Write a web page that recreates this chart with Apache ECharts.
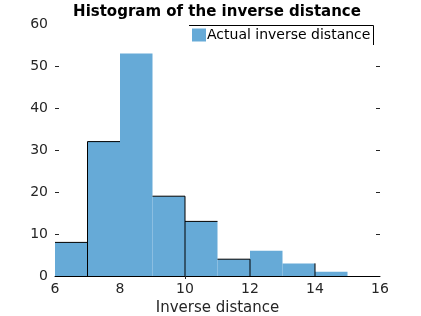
<!DOCTYPE html>
<html>
<head>
<meta charset="utf-8">
<script src="https://cdn.jsdelivr.net/npm/echarts@6/dist/echarts.min.js"></script>
<style>
  html, body { margin: 0; padding: 0; background: #fff; }
  #chart { width: 421px; height: 316px; }
</style>
</head>
<body>
<div id="chart"></div>
<script>
// bin edges and counts
const binStart = [6, 7, 8, 9, 10, 11, 12, 13, 14];
const binEnd = [7, 8, 9, 10, 11, 12, 13, 14, 15];
const counts = [8, 32, 53, 19, 13, 4, 6, 3, 1];
const yTicks = [0, 10, 20, 30, 40, 50, 60];
const xTicks = [6, 8, 10, 12, 14, 16];

const seriesName = 'Actual inverse distance';
const fillColor = '#66AAD7';
const textColor = '#262626';
const font = 'DejaVu Sans';

// which edges of each bar show a black outline (as in the picture)
const edges = [['t'], ['l', 't'], [], ['t', 'r'], ['t'], ['t', 'r'], [], ['r'], []];

const data = binStart.map((s, i) => [s, binEnd[i], counts[i]]);

const chart = echarts.init(document.getElementById('chart'));

const option = {
  animation: false,
  title: {
    text: 'Histogram of the inverse distance',
    left: 217,
    top: 5,
    padding: 0,
    textAlign: 'center',
    textStyle: { fontFamily: font, fontSize: 15, fontWeight: 'bold', color: '#000' }
  },
  legend: {
    data: [seriesName],
    left: 192,
    top: 28,
    padding: 0,
    itemWidth: 14,
    itemHeight: 13,
    icon: 'rect',
    textStyle: { fontFamily: font, fontSize: 14, color: '#000', padding: [0, 0, 0, -4] }
  },
  grid: { left: 55, right: 41, top: 24, bottom: 40, outerBoundsMode: 'none' },
  xAxis: [
    {
      type: 'value',
      min: xTicks[0],
      max: xTicks[xTicks.length - 1],
      interval: 2,
      name: 'Inverse distance',
      nameLocation: 'middle',
      nameGap: 22,
      nameTextStyle: { fontFamily: font, fontSize: 15, color: textColor },
      axisLine: { show: true, onZero: false, lineStyle: { color: '#000', width: 1 } },
      axisTick: { show: false },
      axisLabel: { fontFamily: font, fontSize: 14, color: textColor, margin: 6 },
      splitLine: { show: false }
    },
    {
      type: 'value',
      position: 'top',
      min: xTicks[0],
      max: xTicks[xTicks.length - 1],
      interval: 2,
      axisLine: { show: false },
      axisTick: { show: true, inside: true, length: 3, customValues: [10], lineStyle: { color: textColor } },
      axisLabel: { show: false },
      splitLine: { show: false }
    }
  ],
  yAxis: [
    {
      type: 'value',
      min: 0,
      max: 60,
      interval: 10,
      axisLine: { show: false },
      axisTick: { show: true, inside: true, length: 4, customValues: yTicks.slice(1, -1), lineStyle: { color: textColor } },
      axisLabel: { fontFamily: font, fontSize: 14, color: textColor, margin: 7 },
      splitLine: { show: false }
    },
    {
      type: 'value',
      position: 'right',
      min: 0,
      max: 60,
      interval: 10,
      axisLine: { show: false },
      axisTick: { show: true, inside: true, length: 4, customValues: yTicks.slice(1, -1), lineStyle: { color: textColor } },
      axisLabel: { show: false },
      splitLine: { show: false }
    }
  ],
  graphic: [
    {
      type: 'polyline',
      shape: { points: [[189, 25.5], [373.5, 25.5], [373.5, 45]] },
      style: { stroke: '#000', lineWidth: 1, fill: null },
      z: 100
    }
  ],
  series: [
    {
      name: seriesName,
      type: 'custom',
      itemStyle: { color: fillColor },
      encode: { x: [0, 1], y: 2 },
      data: data,
      renderItem: function (params, api) {
        const x0 = api.value(0);
        const x1 = api.value(1);
        const y = api.value(2);
        const tl = api.coord([x0, y]);
        const br = api.coord([x1, 0]);
        const children = [
          {
            type: 'rect',
            shape: { x: tl[0], y: tl[1], width: br[0] - tl[0], height: br[1] - tl[1] },
            style: { fill: fillColor }
          }
        ];
        const e = edges[params.dataIndex] || [];
        const line = (a, b) => ({
          type: 'line',
          shape: { x1: a[0], y1: a[1], x2: b[0], y2: b[1] },
          style: { stroke: '#000', lineWidth: 1 },
          z2: 10
        });
        if (e.includes('l')) children.push(line([tl[0], br[1]], [tl[0], tl[1]]));
        if (e.includes('t')) children.push(line([tl[0], tl[1]], [br[0], tl[1]]));
        if (e.includes('r')) children.push(line([br[0], tl[1]], [br[0], br[1]]));
        return { type: 'group', children: children };
      }
    }
  ]
};

chart.setOption(option);
</script>
</body>
</html>
